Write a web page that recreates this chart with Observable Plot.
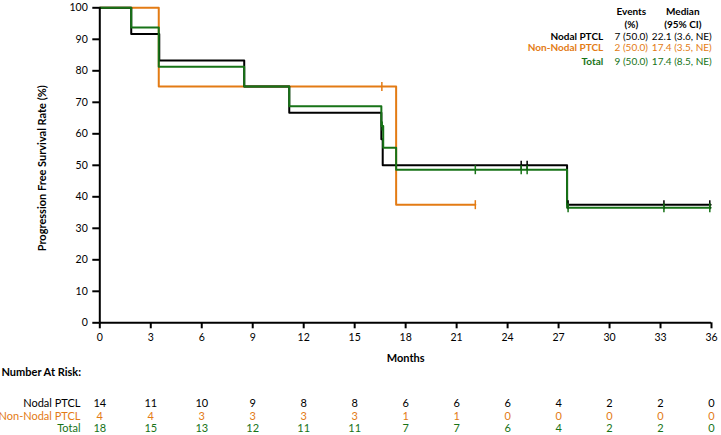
<!DOCTYPE html>
<html>
<head>
<meta charset="utf-8">
<script src="https://cdn.jsdelivr.net/npm/d3@7"></script>
<script src="https://cdn.jsdelivr.net/npm/@observablehq/plot@0.6"></script>
<style>
  body { margin: 0; background: #fff; }
  #chart svg { display: block; }
</style>
</head>
<body>
<div id="chart"></div>
<script>
// Axis ticks
const months = [0, 3, 6, 9, 12, 15, 18, 21, 24, 27, 30, 33, 36];
const survivalTicks = [0, 10, 20, 30, 40, 50, 60, 70, 80, 90, 100];

// Groups and colours
const groups = ["Nodal PTCL", "Non-Nodal PTCL", "Total"];
const groupColors = ["#000000", "#E37B14", "#177317"];

// Kaplan-Meier steps (time in months, survival in %)
const nodalTime = [0, 1.85, 3.5, 8.5, 11.15, 16.57, 16.65, 27.5, 35.95];
const nodalSurv = [100, 91.7, 83.3, 75, 66.7, 58.3, 50, 37.5, 37.5];
const nonNodalTime = [0, 3.47, 17.44, 22.1];
const nonNodalSurv = [100, 75, 37.5, 37.5];
const totalTime = [0, 1.85, 3.47, 8.5, 11.15, 16.57, 16.68, 17.44, 27.5, 35.95];
const totalSurv = [100, 93.75, 81.25, 75, 68.75, 62.5, 55.6, 48.6, 36.5, 36.5];

// Censoring times
const nodalCensor = [24.8, 25.15, 27.56, 33.2, 35.9];
const nonNodalCensor = [16.6, 22.1];
const totalCensor = [16.62, 22.1, 24.8, 25.15, 27.56, 33.2, 35.9];

// Summary table
const eventsText = ["7 (50.0)", "2 (50.0)", "9 (50.0)"];
const medianText = ["22.1 (3.6, NE)", "17.4 (3.5, NE)", "17.4 (8.5, NE)"];

// Number at risk at each x tick
const nodalRisk = [14, 11, 10, 9, 8, 8, 6, 6, 6, 4, 2, 2, 0];
const nonNodalRisk = [4, 4, 3, 3, 3, 3, 1, 1, 0, 0, 0, 0, 0];
const totalRisk = [18, 15, 13, 12, 11, 11, 7, 7, 6, 4, 2, 2, 0];

const series = [
  {name: groups[0], color: groupColors[0], time: nodalTime, surv: nodalSurv, censor: nodalCensor, risk: nodalRisk},
  {name: groups[1], color: groupColors[1], time: nonNodalTime, surv: nonNodalSurv, censor: nonNodalCensor, risk: nonNodalRisk},
  {name: groups[2], color: groupColors[2], time: totalTime, surv: totalSurv, censor: totalCensor, risk: totalRisk}
];

function stepValue(time, surv, t) {
  let v = surv[0];
  for (let i = 0; i < time.length; i++) if (time[i] <= t) v = surv[i];
  return v;
}

// Vertical stroke used for censor marks
const censorSymbol = {
  draw(context, size) {
    const h = Math.sqrt(size / Math.PI);
    context.moveTo(0, -h);
    context.lineTo(0, h);
  }
};

const font = "Lato, 'Open Sans', sans-serif";
const drawOrder = [series[1], series[0], series[2]];

const marks = [];
for (const s of drawOrder) {
  const pts = s.time.map((t, i) => ({t, s: s.surv[i]}));
  marks.push(Plot.line(pts, {x: "t", y: "s", curve: "step-after", stroke: s.color, strokeWidth: 2}));
}
for (const s of drawOrder) {
  const cs = s.censor.map(t => ({t, s: stepValue(s.time, s.surv, t)}));
  marks.push(Plot.dot(cs, {x: "t", y: "s", symbol: censorSymbol, r: 4.5, stroke: s.color, fill: "none", strokeWidth: 1.5}));
}

// Axes
marks.push(
  Plot.axisX({ticks: months, tickSize: 6, tickPadding: 5, label: null, strokeWidth: 2, fontSize: 10.5}),
  Plot.axisY({ticks: survivalTicks, tickSize: 7, tickPadding: 5, label: null, strokeWidth: 2, fontSize: 10.5}),
  Plot.ruleX([0], {strokeWidth: 2}),
  Plot.ruleY([0], {strokeWidth: 2}),
  Plot.text(["Months"], {frameAnchor: "bottom", dy: 36, textAnchor: "middle", lineAnchor: "middle", fontWeight: "bold", fontSize: 11}),
  Plot.text(["Progression Free Survival Rate (%)"], {frameAnchor: "left", rotate: -90, dx: -57.6, dy: 3, textAnchor: "middle", lineAnchor: "middle", fontWeight: "bold", fontSize: 11})
);

// Summary table at top right
const rowDy = [28.7, 40.4, 53.7];
const head = {frameAnchor: "top-left", textAnchor: "middle", lineAnchor: "middle", fontWeight: "bold", fontSize: 10};
marks.push(
  Plot.text(["Events"], {...head, dx: 531.5, dy: 4.4}),
  Plot.text(["(%)"], {...head, dx: 531.5, dy: 16.7}),
  Plot.text(["Median"], {...head, dx: 583, dy: 4.4}),
  Plot.text(["(95% CI)"], {...head, dx: 583, dy: 16.7})
);
series.forEach((s, i) => {
  const row = {frameAnchor: "top-left", lineAnchor: "middle", dy: rowDy[i], fill: s.color, fontSize: 10};
  marks.push(
    Plot.text([s.name], {...row, dx: 503.4, textAnchor: "end", fontWeight: "bold"}),
    Plot.text([eventsText[i]], {...row, dx: 531.5, textAnchor: "middle"}),
    Plot.text([medianText[i]], {...row, dx: 582, textAnchor: "middle"})
  );
});

// Number at risk table
const riskDy = [80.5, 93.5, 106];
marks.push(Plot.text(["Number At Risk:"], {frameAnchor: "bottom-left", dx: -98.3, dy: 50, textAnchor: "start", lineAnchor: "middle", fontWeight: "bold", fontSize: 11}));
series.forEach((s, i) => {
  marks.push(
    Plot.text([s.name], {frameAnchor: "bottom-left", dx: -19.3, dy: riskDy[i], textAnchor: "end", lineAnchor: "middle", fill: s.color, fontSize: 11}),
    Plot.text(s.risk, {x: (d, j) => months[j], text: d => String(d), frameAnchor: "bottom", dy: riskDy[i], textAnchor: "middle", lineAnchor: "middle", fill: s.color, fontSize: 11})
  );
});

const chart = Plot.plot({
  width: 721,
  height: 435,
  marginLeft: 99.3,
  marginRight: 10,
  marginTop: 7.3,
  marginBottom: 112.7,
  style: {fontFamily: font, fontSize: "10px", color: "#000", background: "#fff", overflow: "visible"},
  x: {domain: [0, 36]},
  y: {domain: [0, 100]},
  marks
});
document.getElementById("chart").append(chart);
</script>
</body>
</html>
